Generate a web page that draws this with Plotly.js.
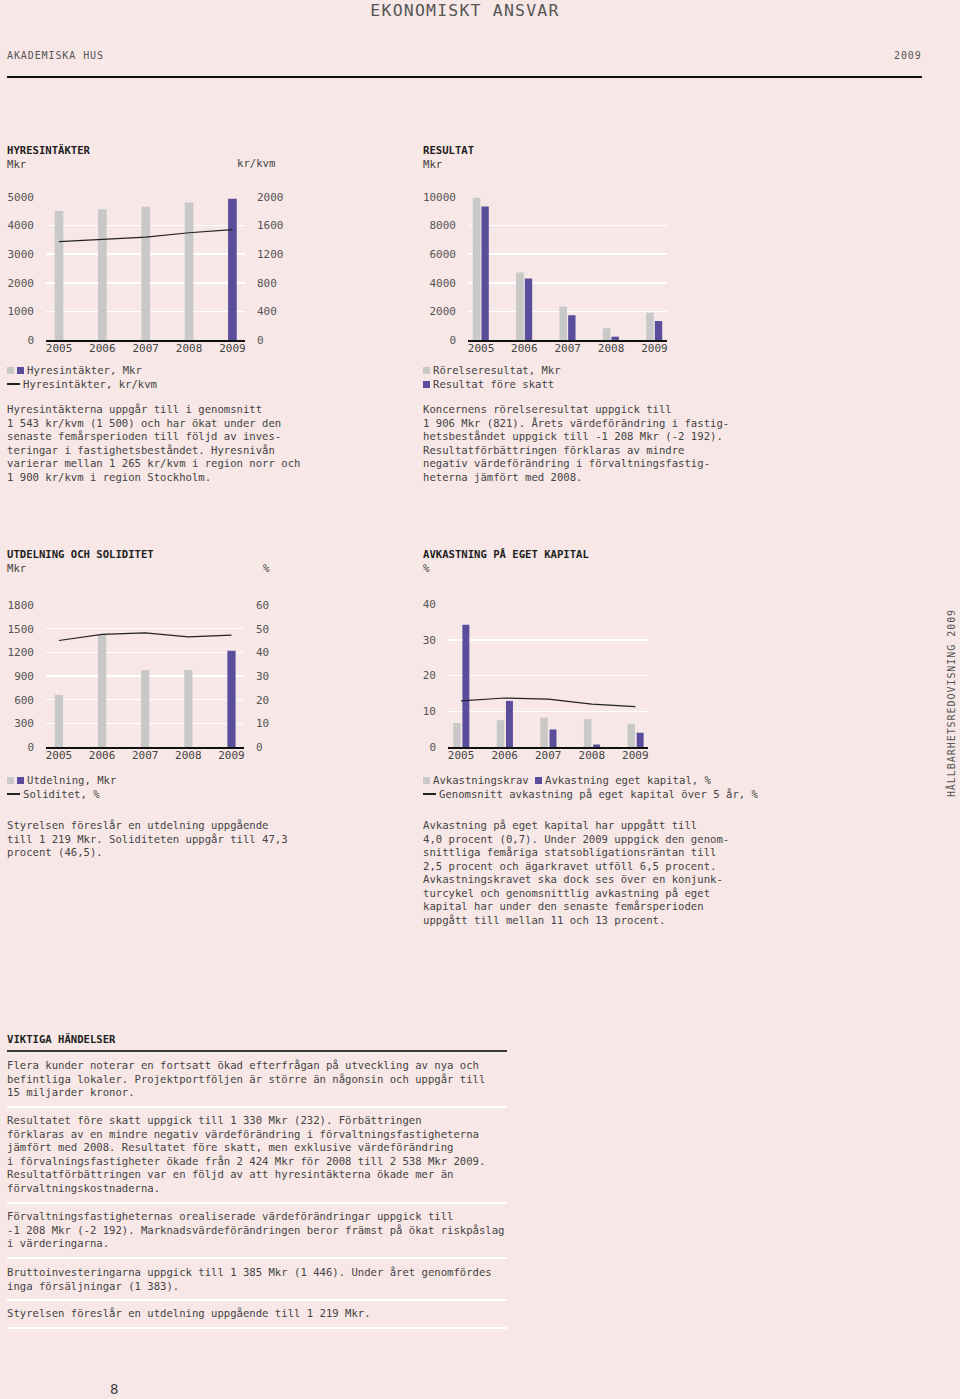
<!DOCTYPE html>
<html>
<head>
<meta charset="utf-8">
<script src="https://cdn.plot.ly/plotly-3.0.1.min.js"></script>
<style>
  html, body { margin: 0; padding: 0; background: #f7e7e6; }
  #page { position: relative; width: 960px; height: 1399px; overflow: hidden; background: #f7e7e6;
          font-family: "DejaVu Sans Mono", "Liberation Mono", monospace; color: #444; }
  #plot { position: absolute; left: 0; top: 0; width: 960px; height: 1399px; }
  .t { position: absolute; white-space: nowrap; font-size: 10.6px; line-height: 13.5px; color: #444; z-index: 2; }
  .h { color: #1e1e1e; font-weight: bold; }
  .sq { display: inline-block; width: 7px; height: 7px; vertical-align: 0px; margin-right: 3px; }
  .g { background: #c8c8c8; }
  .p { background: #5a4e9c; }
  .ln { display: inline-block; width: 13px; height: 1.3px; background: #222; vertical-align: 3px; margin-right: 3px; }
  .rule { position: absolute; z-index: 2; }
</style>
</head>
<body>
<div id="page">
  <div id="plot"></div>

  <div class="t" style="left:0;width:930px;text-align:center;top:1px;font-size:16.5px;line-height:20px;letter-spacing:1.2px;color:#555;">EKONOMISKT ANSVAR</div>
  <div class="t" style="left:7px;top:49px;font-size:10px;letter-spacing:0.9px;color:#555;">AKADEMISKA HUS</div>
  <div class="t" style="left:894px;top:49px;font-size:10px;letter-spacing:0.9px;color:#555;">2009</div>
  <div class="rule" style="left:7px;top:76px;width:915px;height:2px;background:#111;"></div>

  <!-- Chart 1 -->
  <div class="t" style="left:7px;top:144px;"><span class="h">HYRESINTÄKTER</span><br>Mkr</div>
  <div class="t" style="left:237px;top:157px;">kr/kvm</div>
  <div class="t" style="left:7px;top:364px;"><span class="sq g"></span><span class="sq p"></span>Hyresintäkter, Mkr<br><span class="ln"></span>Hyresintäkter, kr/kvm</div>
  <div class="t" style="left:7px;top:403px;">Hyresintäkterna uppgår till i genomsnitt<br>1 543 kr/kvm (1 500) och har ökat under den<br>senaste femårsperioden till följd av inves-<br>teringar i fastighetsbeståndet. Hyresnivån<br>varierar mellan 1 265 kr/kvm i region norr och<br>1 900 kr/kvm i region Stockholm.</div>

  <!-- Chart 2 -->
  <div class="t" style="left:423px;top:144px;"><span class="h">RESULTAT</span><br>Mkr</div>
  <div class="t" style="left:423px;top:364px;"><span class="sq g"></span>Rörelseresultat, Mkr<br><span class="sq p"></span>Resultat före skatt</div>
  <div class="t" style="left:423px;top:403px;">Koncernens rörelseresultat uppgick till<br>1 906 Mkr (821). Årets värdeförändring i fastig-<br>hetsbeståndet uppgick till -1 208 Mkr (-2 192).<br>Resultatförbättringen förklaras av mindre<br>negativ värdeförändring i förvaltningsfastig-<br>heterna jämfört med 2008.</div>

  <!-- Chart 3 -->
  <div class="t" style="left:7px;top:548px;"><span class="h">UTDELNING OCH SOLIDITET</span><br>Mkr</div>
  <div class="t" style="left:263px;top:562px;">%</div>
  <div class="t" style="left:7px;top:774px;"><span class="sq g"></span><span class="sq p"></span>Utdelning, Mkr<br><span class="ln"></span>Soliditet, %</div>
  <div class="t" style="left:7px;top:819px;">Styrelsen föreslår en utdelning uppgående<br>till 1 219 Mkr. Soliditeten uppgår till 47,3<br>procent (46,5).</div>

  <!-- Chart 4 -->
  <div class="t" style="left:423px;top:548px;"><span class="h">AVKASTNING PÅ EGET KAPITAL</span><br>%</div>
  <div class="t" style="left:423px;top:774px;"><span class="sq g"></span>Avkastningskrav <span class="sq p"></span>Avkastning eget kapital, %<br><span class="ln"></span>Genomsnitt avkastning på eget kapital över 5 år, %</div>
  <div class="t" style="left:423px;top:819px;">Avkastning på eget kapital har uppgått till<br>4,0 procent (0,7). Under 2009 uppgick den genom-<br>snittliga femåriga statsobligationsräntan till<br>2,5 procent och ägarkravet utföll 6,5 procent.<br>Avkastningskravet ska dock ses över en konjunk-<br>turcykel och genomsnittlig avkastning på eget<br>kapital har under den senaste femårsperioden<br>uppgått till mellan 11 och 13 procent.</div>

  <!-- Side text -->
  <div class="t" style="left:952px;top:703px;transform:translate(-50%,-50%) rotate(-90deg);font-size:10px;letter-spacing:0.95px;color:#555;">HÅLLBARHETSREDOVISNING 2009</div>

  <!-- Viktiga händelser -->
  <div class="t" style="left:7px;top:1033px;"><span class="h">VIKTIGA HÄNDELSER</span></div>
  <div class="rule" style="left:7px;top:1050px;width:500px;height:2px;background:#3a3a3a;"></div>
  <div class="t" style="left:7px;top:1059px;">Flera kunder noterar en fortsatt ökad efterfrågan på utveckling av nya och<br>befintliga lokaler. Projektportföljen är större än någonsin och uppgår till<br>15 miljarder kronor.</div>
  <div class="rule" style="left:7px;top:1106px;width:500px;height:2px;background:#fff;"></div>
  <div class="t" style="left:7px;top:1114px;">Resultatet före skatt uppgick till 1 330 Mkr (232). Förbättringen<br>förklaras av en mindre negativ värdeförändring i förvaltningsfastigheterna<br>jämfört med 2008. Resultatet före skatt, men exklusive värdeförändring<br>i förvalningsfastigheter ökade från 2 424 Mkr för 2008 till 2 538 Mkr 2009.<br>Resultatförbättringen var en följd av att hyresintäkterna ökade mer än<br>förvaltningskostnaderna.</div>
  <div class="rule" style="left:7px;top:1202px;width:500px;height:2px;background:#fff;"></div>
  <div class="t" style="left:7px;top:1210px;">Förvaltningsfastigheternas orealiserade värdeförändringar uppgick till<br>-1 208 Mkr (-2 192). Marknadsvärdeförändringen beror främst på ökat riskpåslag<br>i värderingarna.</div>
  <div class="rule" style="left:7px;top:1257px;width:500px;height:2px;background:#fff;"></div>
  <div class="t" style="left:7px;top:1266px;">Bruttoinvesteringarna uppgick till 1 385 Mkr (1 446). Under året genomfördes<br>inga försäljningar (1 383).</div>
  <div class="rule" style="left:7px;top:1299px;width:500px;height:2px;background:#fff;"></div>
  <div class="t" style="left:7px;top:1307px;">Styrelsen föreslår en utdelning uppgående till 1 219 Mkr.</div>
  <div class="rule" style="left:7px;top:1327px;width:500px;height:2px;background:#fff;"></div>

  <div class="t" style="left:110px;top:1380px;font-size:14px;line-height:18px;color:#444;">8</div>
</div>

<script>
// ---- Data ----
const years = ['2005', '2006', '2007', '2008', '2009'];
const hyresMkr = [4510, 4570, 4660, 4810, 4940];
const hyresKrKvm = [1375, 1410, 1440, 1500, 1543];
const rorelseresultat = [9950, 4720, 2340, 821, 1906];
const resultatForeSkatt = [9340, 4300, 1730, 232, 1330];
const utdelning = [660, 1430, 975, 975, 1219];
const soliditet = [45.0, 47.6, 48.2, 46.5, 47.3];
const avkastningskrav = [6.7, 7.5, 8.2, 7.8, 6.5];
const avkastningEK = [34.2, 12.9, 4.9, 0.7, 4.0];
const snittAvkastning = [12.9, 13.7, 13.4, 12.0, 11.3];

// ---- Styles ----
const GRAY = '#c8c8c8';
const PURPLE = '#5a4e9c';
const LINE = '#222222';
const H = 1399, W = 960;
const lastPurple = years.map((y, i) => i === years.length - 1 ? PURPLE : GRAY);

function xd(l, r) { return [l / W, r / W]; }
function yd(top, bottom) { return [1 - bottom / H, 1 - top / H]; }

const tickFont = { family: 'DejaVu Sans Mono, monospace', size: 11, color: '#555' };

function xAxis(dom, anchor) {
  return {
    domain: xd(dom[0], dom[1]), anchor: anchor, type: 'category',
    range: [-0.3, 4.29], showgrid: false, zeroline: false,
    showline: true, linecolor: '#111', linewidth: 2, ticks: '',
    tickfont: { family: 'DejaVu Sans Mono, monospace', size: 11, color: '#444' },
    ticklabelstandoff: -3, fixedrange: true
  };
}
function yAxis(dom, anchor, range, dtick, grid) {
  return {
    domain: yd(dom[0], dom[1]), anchor: anchor, range: range, dtick: dtick, tick0: 0,
    showgrid: grid, gridcolor: '#ffffff', gridwidth: 1.5, zeroline: false,
    showline: false, ticks: '', tickformat: 'd', tickfont: tickFont,
    ticklabelstandoff: 11, fixedrange: true
  };
}

const traces = [
  // Chart 1
  { type: 'bar', x: years, y: hyresMkr, xaxis: 'x', yaxis: 'y',
    marker: { color: lastPurple }, width: 0.2, offset: -0.1 },
  { type: 'scatter', mode: 'lines', x: years, y: hyresKrKvm, xaxis: 'x', yaxis: 'y2',
    line: { color: LINE, width: 1.2 } },
  // Chart 2
  { type: 'bar', x: years, y: rorelseresultat, xaxis: 'x2', yaxis: 'y3',
    marker: { color: GRAY }, width: 0.175, offset: -0.19 },
  { type: 'bar', x: years, y: resultatForeSkatt, xaxis: 'x2', yaxis: 'y3',
    marker: { color: PURPLE }, width: 0.17, offset: 0.01 },
  // Chart 3
  { type: 'bar', x: years, y: utdelning, xaxis: 'x3', yaxis: 'y4',
    marker: { color: lastPurple }, width: 0.19, offset: -0.095 },
  { type: 'scatter', mode: 'lines', x: years, y: soliditet, xaxis: 'x3', yaxis: 'y5',
    line: { color: LINE, width: 1.2 } },
  // Chart 4
  { type: 'bar', x: years, y: avkastningskrav, xaxis: 'x4', yaxis: 'y6',
    marker: { color: GRAY }, width: 0.17, offset: -0.18 },
  { type: 'bar', x: years, y: avkastningEK, xaxis: 'x4', yaxis: 'y6',
    marker: { color: PURPLE }, width: 0.16, offset: 0.03 },
  { type: 'scatter', mode: 'lines', x: years, y: snittAvkastning, xaxis: 'x4', yaxis: 'y6',
    line: { color: LINE, width: 1.2 } }
];

const y2 = yAxis([197, 340], 'x', [0, 2000], 400, false);
y2.overlaying = 'y'; y2.side = 'right';
const y5 = yAxis([605, 747], 'x3', [0, 60], 10, false);
y5.overlaying = 'y4'; y5.side = 'right';

const layout = {
  width: W, height: H,
  margin: { l: 0, r: 0, t: 0, b: 0 },
  paper_bgcolor: 'rgba(0,0,0,0)', plot_bgcolor: 'rgba(0,0,0,0)',
  showlegend: false, barmode: 'overlay',
  font: { family: 'DejaVu Sans Mono, monospace', size: 11, color: '#555' },
  xaxis: xAxis([46, 245], 'y'),
  yaxis: yAxis([197, 340], 'x', [0, 5000], 1000, true),
  yaxis2: y2,
  xaxis2: xAxis([468, 667], 'y3'),
  yaxis3: yAxis([197, 340], 'x2', [0, 10000], 2000, true),
  xaxis3: xAxis([46, 244], 'y4'),
  yaxis4: yAxis([605, 747], 'x3', [0, 1800], 300, true),
  yaxis5: y5,
  xaxis4: xAxis([448, 648], 'y6'),
  yaxis6: yAxis([604, 747], 'x4', [0, 40], 10, true)
};

Plotly.newPlot('plot', traces, layout, { staticPlot: true, displayModeBar: false });
</script>
</body>
</html>
